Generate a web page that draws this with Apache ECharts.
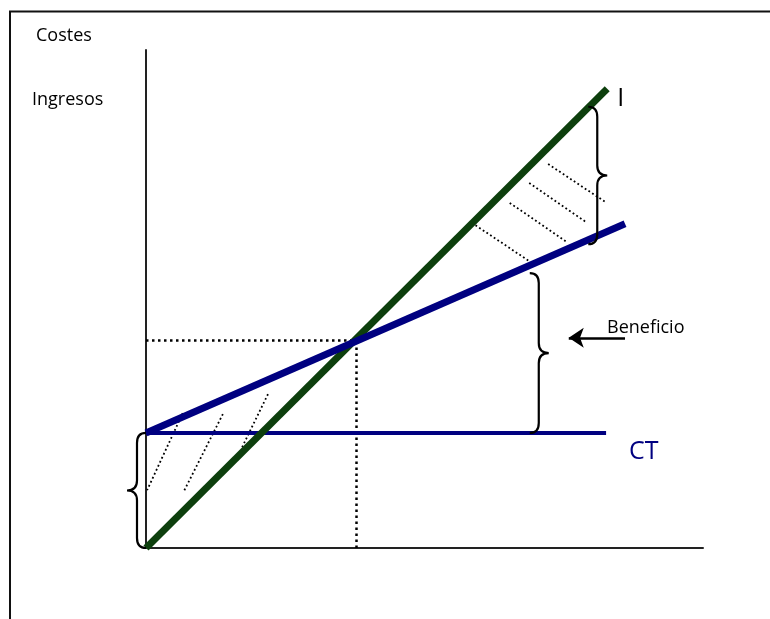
<!DOCTYPE html>
<html>
<head>
<meta charset="utf-8">
<script src="https://cdn.jsdelivr.net/npm/echarts@6/dist/echarts.min.js"></script>
<style>
  html, body {margin: 0; padding: 0; background: #fff;}
  #chart {width: 770px; height: 619px;}
</style>
</head>
<body>
<div id="chart"></div>
<script>
// datos del grafico del punto muerto (unidades abstractas 0-100)
var ingresos = [[0, 0], [82.8, 92.2]];
var costeTotal = [[0, 23.1], [86.0, 65.1]];
var costeFijo = [[0, 23.1], [82.6, 23.1]];
var puntoMuerto = [37.7, 41.8];
// llaves: [x, y inferior, y superior, sentido]
var llaves = [[79.4, 61.0, 88.6, 1], [68.9, 23.1, 55.2, 1], [0, 0, 23.1, -1]];
var rayadoBeneficio = [
    [[72.2, 77.1], [82.7, 69.3]],
    [[68.8, 73.3], [79.2, 65.3]],
    [[65.3, 69.3], [75.6, 61.4]],
    [[58.5, 65.3], [68.8, 57.6]]
];
var rayadoPerdida = [
    [[6.6, 27.1], [0.2, 11.6]],
    [[13.8, 26.9], [6.8, 11.4]],
    [[21.9, 30.9], [17.2, 20.1]]
];
var flechaBeneficio = [[86.0, 42.2], [75.9, 42.2]];

var fuente = 'Open Sans';
var verde = '#0d3f0d';
var azul = '#000080';

function llave_path(params, api) {
    var d = api.value(3);
    var top = api.coord([api.value(0), api.value(2)]);
    var bot = api.coord([api.value(0), api.value(1)]);
    var ex = top[0], ty = top[1], by = bot[1];
    var sx = ex + d * 9, tx = ex + d * 19, my = (ty + by) / 2, r = 10;
    var p = 'M' + ex + ',' + ty +
        ' Q' + sx + ',' + ty + ' ' + sx + ',' + (ty + r) +
        ' L' + sx + ',' + (my - r) +
        ' Q' + sx + ',' + my + ' ' + tx + ',' + my +
        ' Q' + sx + ',' + my + ' ' + sx + ',' + (my + r) +
        ' L' + sx + ',' + (by - r) +
        ' Q' + sx + ',' + by + ' ' + ex + ',' + by;
    return {type: 'path', shape: {pathData: p}, style: {fill: null, stroke: '#000', lineWidth: 2.2}};
}

var chart = echarts.init(document.getElementById('chart'), null, {renderer: 'canvas'});
var axis_opts = {
    type: 'value', min: 0, max: 100,
    axisLine: {show: true, lineStyle: {color: '#222', width: 2}},
    axisTick: {show: false}, axisLabel: {show: false}, splitLine: {show: false}
};
chart.setOption({
    animation: false,
    grid: {left: 146, right: 67, top: 50, bottom: 71},
    xAxis: Object.assign({}, axis_opts),
    yAxis: Object.assign({}, axis_opts),
    textStyle: {fontFamily: fuente},
    graphic: [
        {type: 'polyline', shape: {points: [[10, 619], [10, 11.5], [770, 11.5]]}, style: {stroke: '#111', lineWidth: 2, fill: null}},
        {type: 'text', left: 36, top: 27, style: {text: 'Costes', font: '18px "Open Sans"', fill: '#000'}},
        {type: 'text', left: 32, top: 91, style: {text: 'Ingresos', font: '18px "Open Sans"', fill: '#000'}},
        {type: 'text', left: 607, top: 319, style: {text: 'Beneficio', font: '18px "Open Sans"', fill: '#000'}}
    ],
    series: [
        {type: 'lines', coordinateSystem: 'cartesian2d', z: 1,
         lineStyle: {color: '#000', width: 2.5, type: [2.5, 3.5], opacity: 1},
         data: [{coords: [[0, puntoMuerto[1]], puntoMuerto]}, {coords: [[puntoMuerto[0], 0], puntoMuerto]}]},
        {type: 'lines', coordinateSystem: 'cartesian2d', z: 1,
         lineStyle: {color: '#000', width: 1.8, type: [1.8, 2.6], opacity: 1},
         data: rayadoBeneficio.concat(rayadoPerdida).map(function (c) {return {coords: c};})},
        {type: 'line', data: costeFijo, symbol: 'none', z: 3,
         lineStyle: {color: azul, width: 4},
         endLabel: {show: true, formatter: 'CT', color: azul, fontSize: 25, fontFamily: fuente, offset: [15, 19]}},
        {type: 'line', data: ingresos, symbol: 'none', z: 4,
         lineStyle: {color: verde, width: 7},
         endLabel: {show: true, formatter: 'I', color: '#000', fontSize: 25, fontFamily: fuente, offset: [2, 10]}},
        {type: 'line', data: costeTotal, symbol: 'none', z: 5,
         lineStyle: {color: azul, width: 7}},
        {type: 'custom', renderItem: llave_path, data: llaves, z: 6, silent: true},
        {type: 'lines', coordinateSystem: 'cartesian2d', z: 6,
         symbol: ['none', 'arrow'], symbolSize: 15,
         lineStyle: {color: '#000', width: 2.5, opacity: 1},
         data: [{coords: flechaBeneficio}]}
    ]
});
</script>
</body>
</html>
